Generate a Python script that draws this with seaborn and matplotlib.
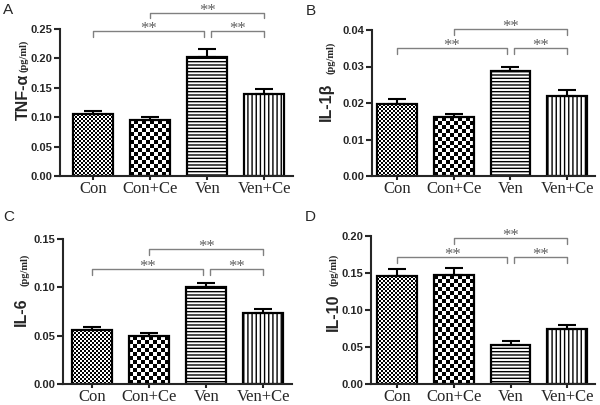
import numpy as np
import matplotlib
matplotlib.use("Agg")
import matplotlib.pyplot as plt
import seaborn as sns

groups = ["Con", "Con+Ce", "Ven", "Ven+Ce"]

# mean and SEM (pg/ml)
tnf_mean = [0.105, 0.095, 0.203, 0.140]
tnf_sem = [0.005, 0.006, 0.013, 0.008]
il1b_mean = [0.0197, 0.0161, 0.0289, 0.0219]
il1b_sem = [0.0015, 0.0009, 0.0011, 0.0016]
il6_mean = [0.0554, 0.0495, 0.1004, 0.0733]
il6_sem = [0.0038, 0.0035, 0.0045, 0.0044]
il10_mean = [0.1455, 0.147, 0.0530, 0.0745]
il10_sem = [0.0105, 0.0100, 0.0050, 0.0058]

# significance brackets (group pairs) and their heights, all "**"
sig_pairs = [(0, 2), (1, 3), (2, 3)]
tnf_sig = [0.246, 0.278, 0.246]
il1b_sig = [0.0350, 0.0402, 0.0350]
il6_sig = [0.1187, 0.1397, 0.1187]
il10_sig = [0.172, 0.197, 0.172]

W, H = 600, 405


def fx(px):
    return px / W


def fy(px):
    return 1 - px / H


def checker(ax, bar, cell):
    """Fill a bar with a checkerboard texture (clipped to the bar)."""
    x0, y0 = bar.get_x(), bar.get_y()
    x1, y1 = x0 + bar.get_width(), y0 + bar.get_height()
    (px0, py0), (px1, py1) = ax.transData.transform([(x0, y0), (x1, y1)])
    nx = max(1, int(round((px1 - px0) / cell)))
    ny = max(1, int(round((py1 - py0) / cell)))
    board = np.indices((ny, nx)).sum(axis=0) % 2
    im = ax.imshow(board, cmap="gray", extent=(x0, x1, y0, y1), origin="lower",
                   aspect="auto", interpolation="nearest", zorder=0.8)
    im.set_clip_path(bar)
    bar.set_facecolor("none")


def draw_panel(fig, rect, xlim, mean, sem, sig, ymax, step):
    ax = fig.add_axes(rect)
    sns.barplot(x=groups, y=mean, ax=ax, color="white", edgecolor="black",
                linewidth=1.6, width=0.7, errorbar=None, saturation=1)
    bars = ax.patches[:4]
    bars[2].set_hatch("-----")
    bars[3].set_hatch("||||")

    ax.errorbar(np.arange(4), mean, yerr=[np.zeros(4), sem], fmt="none",
                ecolor="black", elinewidth=1.5, capsize=6.5, capthick=1.5, zorder=3)

    ax.set_xlim(*xlim)
    ax.set_ylim(0, ymax)
    checker(ax, bars[0], 2)
    checker(ax, bars[1], 4)
    ax.set_xlim(*xlim)
    ax.set_ylim(0, ymax)

    ax.set_yticks(np.arange(0, ymax + step / 2, step))
    ax.yaxis.set_major_formatter(matplotlib.ticker.FormatStrFormatter("%.2f"))
    ax.set_xlabel("")
    ax.set_ylabel("")
    sns.despine(ax=ax)
    for s in ["left", "bottom"]:
        ax.spines[s].set_linewidth(1.5)
    ax.tick_params(axis="y", length=4, width=1.5, pad=1.5)
    ax.tick_params(axis="x", length=3, width=1.5, pad=0.5)
    for lab in ax.get_xticklabels():
        lab.set_fontfamily("Liberation Serif")
        lab.set_fontsize(12)
    for lab in ax.get_yticklabels():
        lab.set_fontfamily("Liberation Sans")
        lab.set_fontweight("bold")
        lab.set_fontsize(8)

    # significance brackets
    drop = ymax * 0.04
    for (i, j), h in zip(sig_pairs, sig):
        left = i + (0.06 if i == 2 else 0)
        right = j - (0.06 if j == 2 else 0)
        ax.plot([left, left, right, right], [h - drop, h, h, h - drop],
                color="#808080", lw=1, clip_on=False)
        ax.annotate("**", ((left + right) / 2, h), xytext=(0, -1.5),
                    textcoords="offset points", ha="center", va="baseline",
                    fontsize=12, family="Liberation Serif", color="#606060",
                    annotation_clip=False)
    return ax


sns.set_style("ticks")
fig = plt.figure(figsize=(6, 4.05), dpi=100)

panels = [
    # rect, xlim, mean, sem, sig, ymax, step
    ([fx(60), fy(176), fx(233), 147 / H], (-0.58, 3.5), tnf_mean, tnf_sem, tnf_sig, 0.25, 0.05),
    ([fx(372), fy(176), fx(223), 146 / H], (-0.44, 3.49), il1b_mean, il1b_sem, il1b_sig, 0.04, 0.01),
    ([fx(63), fy(384), fx(229), 145 / H], (-0.51, 3.5), il6_mean, il6_sem, il6_sig, 0.15, 0.05),
    ([fx(371), fy(384), fx(224), 148 / H], (-0.46, 3.49), il10_mean, il10_sem, il10_sig, 0.20, 0.05),
]
for p in panels:
    draw_panel(fig, *p)

# y labels: bold name plus small serif unit
ylabels = [("TNF-α", 23, 97, 24, 56), ("IL-1β", 326, 102, 331, 58),
           ("IL-6", 21, 312, 25, 270), ("IL-10", 333, 312, 334, 270)]
for name, x1, y1, x2, y2 in ylabels:
    fig.text(fx(x1), fy(y1), name, rotation=90, ha="center", va="center",
             fontsize=11.5, fontweight="bold", family="Liberation Sans")
    fig.text(fx(x2), fy(y2), "(pg/ml)", rotation=90, ha="center", va="center",
             fontsize=7.5, fontweight="bold", family="Liberation Serif")

# panel letters
for letter, x, y in [("A", 3, 3), ("B", 306, 4), ("C", 3, 210), ("D", 305, 210)]:
    fig.text(fx(x), fy(y), letter, ha="left", va="top", fontsize=11,
             family="Liberation Sans")

fig.savefig("out.png", dpi=100)
